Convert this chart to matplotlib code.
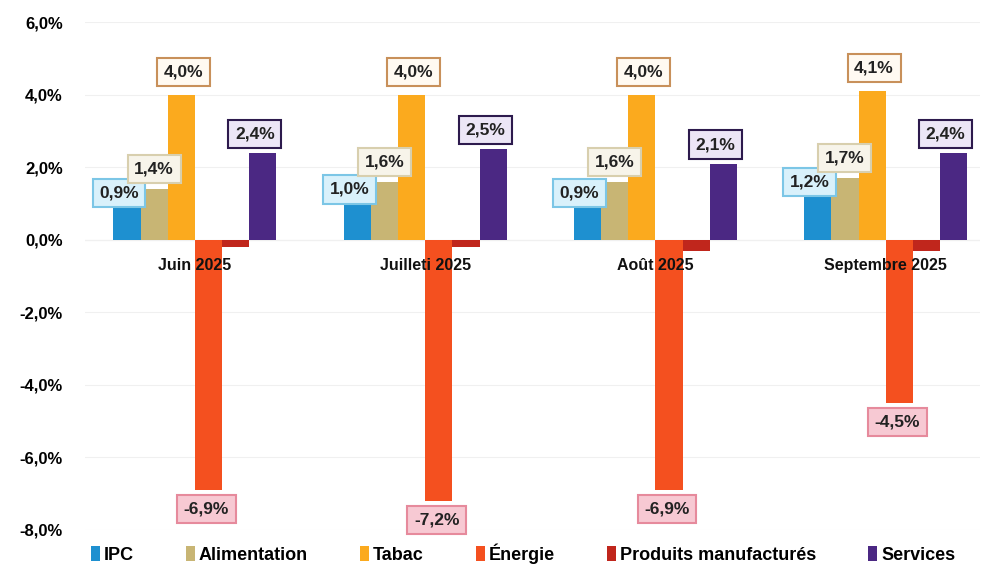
import numpy as np
import matplotlib
matplotlib.use('Agg')
import matplotlib.pyplot as plt
from matplotlib.ticker import FuncFormatter

plt.rcParams['font.family'] = ['Liberation Sans', 'DejaVu Sans']

mois = ['Juin 2025', 'Juilleti 2025', 'Août 2025', 'Septembre 2025']
series = ['IPC', 'Alimentation', 'Tabac', 'Énergie', 'Produits manufacturés', 'Services']
ipc = [0.9, 1.0, 0.9, 1.2]
alimentation = [1.4, 1.6, 1.6, 1.7]
tabac = [4.0, 4.0, 4.0, 4.1]
energie = [-6.9, -7.2, -6.9, -4.5]
manufactures = [-0.2, -0.2, -0.3, -0.3]
services = [2.4, 2.5, 2.1, 2.4]

values = [ipc, alimentation, tabac, energie, manufactures, services]
colors = ['#1e90d0', '#c8b574', '#fbaa1e', '#f4501f', '#c0261c', '#4b2883']
# label box styles: (fill, edge, dx px, dy px) ; None = no label
box = [('#d9f1fb', '#7cc6e6', -8, 14),
       ('#f7f4ea', '#d8cfae', 0, 20),
       ('#fffaf2', '#c8905a', 2, 23),
       ('#f7c9d3', '#e68a9c', -2, -19),
       None,
       ('#ece6f6', '#2d1a4d', -8, 19)]

fig = plt.figure(figsize=(9.87, 5.69), dpi=100)
ax = fig.add_axes([0.086, 0.069, 0.907, 0.892])

x = np.arange(len(mois))
w = 0.118
for k, (vals, c) in enumerate(zip(values, colors)):
    pos = x + (k - 2.5) * w
    ax.bar(pos, vals, width=w, color=c, label=series[k], zorder=2)
    if box[k] is None:
        continue
    fc, ec, dx, dy = box[k]
    for xi, v in zip(pos, vals):
        ax.annotate(f'{v:.1f}%'.replace('.', ','), (xi, v),
                    xytext=(dx * 0.72, dy * 0.72), textcoords='offset points',
                    ha='center', va='center', fontsize=12.5, fontweight='bold',
                    color='#222222', zorder=5,
                    bbox=dict(boxstyle='square,pad=0.38', fc=fc, ec=ec, lw=1.5))

for xi, m in zip(x, mois):
    ax.text(xi, -0.7, m, ha='center', va='center', fontsize=11.5,
            fontweight='bold', color='#111111', zorder=6)

ax.set_ylim(-8, 6)
ax.set_xlim(-0.478, 3.41)
ax.set_yticks(np.arange(-8, 7, 2))
ax.yaxis.set_major_formatter(FuncFormatter(lambda v, p: f'{v:.1f}%'.replace('.', ',')))
ax.tick_params(axis='y', length=0, labelsize=12, pad=16)
for t in ax.get_yticklabels():
    t.set_fontweight('bold')
ax.set_xticks([])
ax.grid(axis='y', color='#f0f0f0', lw=0.8, zorder=0)
ax.axhline(0, color='#e6e6e6', lw=0.8, zorder=1)
for s in ax.spines.values():
    s.set_visible(False)

leg = fig.legend(loc='lower center', bbox_to_anchor=(0.53, -0.02), ncol=6,
                 frameon=False, handlelength=0.5, handleheight=0.9,
                 handletextpad=0.2, columnspacing=2.9,
                 prop={'weight': 'bold', 'size': 13})

fig.savefig('out.png', dpi=100)
